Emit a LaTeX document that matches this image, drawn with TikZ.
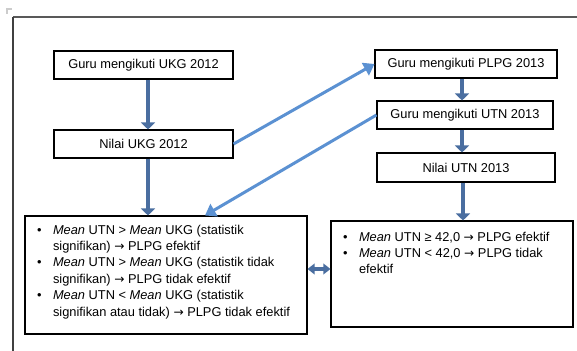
\documentclass[tikz,border=0pt]{standalone}
\usepackage{fontspec}
\setmainfont{Liberation Sans}
\newfontfamily\arrowfont[Scale=0.95]{DejaVu Sans}
\usetikzlibrary{arrows.meta}
\definecolor{darkarrow}{RGB}{74,110,160}
\definecolor{lightarrow}{RGB}{91,145,210}
\newcommand{\toarrow}{{\arrowfont →}}
\newenvironment{pointlist}{\begin{list}{\textbullet}{\setlength{\leftmargin}{0.46cm}\setlength{\labelsep}{0.23cm}\setlength{\labelwidth}{0.2cm}\setlength{\itemsep}{0pt}\setlength{\parsep}{0pt}\setlength{\topsep}{0pt}\setlength{\partopsep}{0pt}}}{\end{list}}
\tikzset{
  box/.style={draw, line width=0.6pt, inner sep=0pt, minimum height=0.56cm},
  listbox/.style={draw, line width=0.6pt, inner sep=0.1cm},
  darkflow/.style={darkarrow, line width=0.09cm, -{Triangle[length=4pt, width=8pt]}},
  lightflow/.style={lightarrow, line width=0.06cm, -{Triangle[length=6pt, width=8pt]}}
}
\begin{document}
\begin{tikzpicture}[every node/.style={font=\fontsize{7.3}{9.3}\selectfont}]
\useasboundingbox (0,0) rectangle (11.54,7.02);
% Page frame
\draw[gray!40, line width=0.6pt] (0.14,6.74) -- (0.14,6.84) -- (0.24,6.84);
\draw[gray!70!black, line width=1.1pt] (0.26,6.68) -- (11.54,6.68);
\draw[black!75, line width=1.1pt] (0.26,6.68) -- (0.26,0);

% Left column
\node[box, minimum width=3.58cm] (ukg) at (2.87,5.72) {Guru mengikuti UKG 2012};
\node[box, minimum width=3.58cm] (nilaiukg) at (2.87,4.14) {Nilai UKG 2012};

% Right column
\node[box, minimum width=3.64cm] (plpg) at (9.32,5.74) {Guru mengikuti PLPG 2013};
\node[box, minimum width=3.52cm] (utn) at (9.30,4.72) {Guru mengikuti UTN 2013};
\node[box, minimum width=3.56cm, minimum height=0.58cm] (nilaiutn) at (9.32,3.67) {Nilai UTN 2013};

% Result boxes
\node[listbox] (hasilukg) at (3.32,1.52) {\begin{minipage}[t][2.16cm][t]{5.44cm}\raggedright
\vspace*{0.08cm}
\begin{pointlist}
\item \textit{Mean} UTN > \textit{Mean} UKG (statistik\newline signifikan) \toarrow{} PLPG efektif
\item \textit{Mean} UTN > \textit{Mean} UKG (statistik tidak\newline signifikan) \toarrow{} PLPG tidak efektif
\item \textit{Mean} UTN < \textit{Mean} UKG (statistik\newline signifikan atau tidak) \toarrow{} PLPG tidak efektif
\end{pointlist}
\end{minipage}};
\node[listbox] (hasilutn) at (9.04,1.54) {\begin{minipage}[t][1.92cm][t]{4.64cm}\raggedright
\vspace*{0.12cm}
\begin{pointlist}
\item \textit{Mean} UTN ≥ 42,0 \toarrow{} PLPG efektif
\item \textit{Mean} UTN < 42,0 \toarrow{} PLPG tidak\newline efektif
\end{pointlist}
\end{minipage}};

% Arrows
\draw[darkflow] ([xshift=0.09cm]ukg.south) -- ([xshift=0.09cm]nilaiukg.north);
\draw[darkflow] ([xshift=0.09cm]nilaiukg.south) -- ([xshift=0.09cm]nilaiukg.south |- hasilukg.north);
\draw[darkflow] ([xshift=-0.08cm]plpg.south) -- ([xshift=-0.08cm]plpg.south |- utn.north);
\draw[darkflow] ([xshift=-0.06cm]utn.south) -- ([xshift=-0.06cm]utn.south |- nilaiutn.north);
\draw[darkflow] ([xshift=-0.06cm]nilaiutn.south) -- ([xshift=-0.06cm]nilaiutn.south |- hasilutn.north);
\draw[lightflow] (nilaiukg.east) -- (plpg.west);
\draw[lightflow] (utn.west) -- ([xshift=0.78cm]hasilukg.north);
\draw[darkflow, {Triangle[length=4pt, width=6pt]}-{Triangle[length=4pt, width=6pt]}, line width=0.07cm] ([yshift=0.12cm]hasilukg.east) -- ([yshift=0.12cm]hasilukg.east -| hasilutn.west);
\end{tikzpicture}
\end{document}
